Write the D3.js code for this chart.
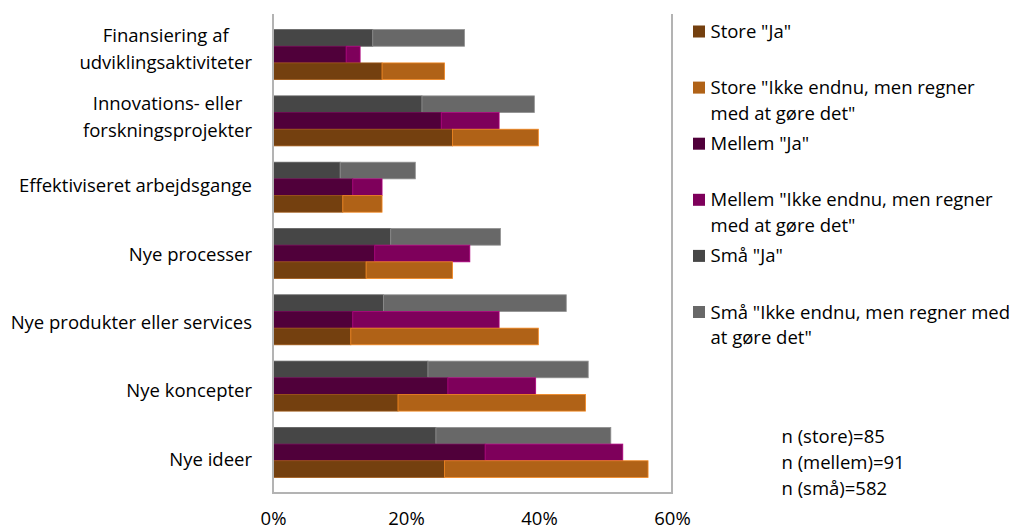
<!DOCTYPE html>
<html>
<head>
<meta charset="utf-8">
<script src="https://cdn.jsdelivr.net/npm/d3@7"></script>
<style>
  html, body { margin: 0; padding: 0; background: #fff; }
  svg { display: block; font-family: "Open Sans", "Noto Sans", sans-serif; }
  text { fill: #000; }
</style>
</head>
<body>
<svg id="chart" width="1013" height="530"></svg>
<script>
// Categories, top to bottom
const categories = [
  "Finansiering af udviklingsaktiviteter",
  "Innovations- eller forskningsprojekter",
  "Effektiviseret arbejdsgange",
  "Nye processer",
  "Nye produkter eller services",
  "Nye koncepter",
  "Nye ideer"
];
// Category labels split into display lines
const categoryLines = [
  ["Finansiering af", "udviklingsaktiviteter"],
  ["Innovations- eller", "forskningsprojekter"],
  ["Effektiviseret arbejdsgange"],
  ["Nye processer"],
  ["Nye produkter eller services"],
  ["Nye koncepter"],
  ["Nye ideer"]
];

// Shares in percent per company size
const storeJa     = [16.4, 27.0, 10.5, 14.0, 11.7, 18.8, 25.8];
const storeIkke   = [ 9.4, 12.9,  5.9, 13.0, 28.2, 28.2, 30.6];
const mellemJa    = [11.0, 25.3, 12.0, 15.3, 12.0, 26.3, 31.9];
const mellemIkke  = [ 2.1,  8.7,  4.4, 14.3, 22.0, 13.2, 20.7];
const smaaJa      = [15.0, 22.4, 10.1, 17.7, 16.6, 23.3, 24.5];
const smaaIkke    = [13.8, 16.9, 11.3, 16.5, 27.5, 24.1, 26.3];

// Bar rows within each category, top to bottom
const groups = ["Små", "Mellem", "Store"];

// Axis ticks (fractions)
const xTicks = [0, 0.2, 0.4, 0.6];

// Legend entries, in legend order
const legendLines = [
  ["Store \"Ja\""],
  ["Store \"Ikke endnu, men regner", "med at gøre det\""],
  ["Mellem \"Ja\""],
  ["Mellem \"Ikke endnu, men regner", "med at gøre det\""],
  ["Små \"Ja\""],
  ["Små \"Ikke endnu, men regner med", "at gøre det\""]
];
const sampleNotes = ["n (store)=85", "n (mellem)=91", "n (små)=582"];

const colors = {
  storeJa: "#74400f",
  storeIkke: "#b06217",
  mellemJa: "#50003a",
  mellemIkke: "#7e005b",
  smaaJa: "#464646",
  smaaIkke: "#686868"
};
const legendColors = [colors.storeJa, colors.storeIkke, colors.mellemJa, colors.mellemIkke, colors.smaaJa, colors.smaaIkke];

// Stacked series per row
const rows = [];
categories.forEach((c, i) => {
  rows.push({cat: c, group: "Små",    ja: smaaJa[i],   ikke: smaaIkke[i],   cJa: colors.smaaJa,   cIkke: colors.smaaIkke});
  rows.push({cat: c, group: "Mellem", ja: mellemJa[i], ikke: mellemIkke[i], cJa: colors.mellemJa, cIkke: colors.mellemIkke});
  rows.push({cat: c, group: "Store",  ja: storeJa[i],  ikke: storeIkke[i],  cJa: colors.storeJa,  cIkke: colors.storeIkke});
});

const svg = d3.select("#chart");
const plot = {left: 273, right: 672, top: 14, bottom: 493};

const x = d3.scaleLinear().domain([0, 0.6]).range([plot.left, plot.right]);

// Bar bands
const yBand = d3.scaleBand().domain(categories)
  .range([plot.top, plot.bottom]).paddingInner(0.246).paddingOuter(0.235);
const yInner = d3.scaleBand().domain(groups).range([0, yBand.bandwidth()]);
// Label positions
const yLabel = d3.scalePoint().domain(categories).range([plot.top, plot.bottom]).padding(0.5);

// Bars
const barG = svg.append("g");
rows.forEach(r => {
  const y0 = yBand(r.cat) + yInner(r.group);
  const h = yInner.bandwidth();
  const segs = [
    {from: 0, to: r.ja / 100, fill: r.cJa},
    {from: r.ja / 100, to: (r.ja + r.ikke) / 100, fill: r.cIkke}
  ];
  segs.forEach(s => {
    barG.append("rect")
      .attr("x", x(s.from))
      .attr("y", y0)
      .attr("width", x(s.to) - x(s.from))
      .attr("height", h)
      .attr("fill", s.fill)
      .attr("stroke", d3.color(s.fill).brighter(0.9))
      .attr("stroke-width", 0.8);
  });
});

// Frame: left, right and bottom
svg.append("path")
  .attr("d", `M${plot.left},${plot.top}V${plot.bottom}H${plot.right}V${plot.top}`)
  .attr("fill", "none")
  .attr("stroke", "#b3b3b3")
  .attr("stroke-width", 2);

// X axis labels
const xAxis = svg.append("g")
  .attr("transform", `translate(0,${plot.bottom})`)
  .call(d3.axisBottom(x).tickValues(xTicks).tickFormat(d3.format(".0%")).tickSize(0));
xAxis.select(".domain").remove();
xAxis.selectAll("text")
  .attr("y", 32).attr("dy", 0)
  .style("font-family", "'Open Sans', sans-serif")
  .style("font-size", "18.5px")
  .attr("fill", "#000");

// Category labels
const labelG = svg.append("g").style("font-size", "18.5px");
const labelRight = 252;
categories.forEach((c, i) => {
  const lines = categoryLines[i];
  const cy = yLabel(c);
  const g = labelG.append("g");
  const texts = lines.map((ln, j) => {
    const base = cy + 7 + (lines.length === 1 ? 0 : (j === 0 ? -13.3 : 13.3));
    return g.append("text").attr("y", base).text(ln);
  });
  const maxW = d3.max(texts, t => t.node().getComputedTextLength());
  texts.forEach(t => t.attr("x", labelRight - maxW / 2).attr("text-anchor", "middle"));
});

// Legend
const legendG = svg.append("g").style("font-size", "18.5px");
legendLines.forEach((lines, k) => {
  const base = 38 + 56.1 * k;
  legendG.append("rect")
    .attr("x", 693).attr("y", base - 12.5)
    .attr("width", 12).attr("height", 12)
    .attr("fill", legendColors[k]);
  lines.forEach((ln, j) => {
    legendG.append("text")
      .attr("x", 710.5)
      .attr("y", base + j * 25.5)
      .text(ln);
  });
});

// Sample sizes
const noteG = svg.append("g").style("font-size", "18.5px");
sampleNotes.forEach((t, i) => {
  noteG.append("text").attr("x", 781.5).attr("y", 443 + i * 25.8).text(t);
});
</script>
</body>
</html>
